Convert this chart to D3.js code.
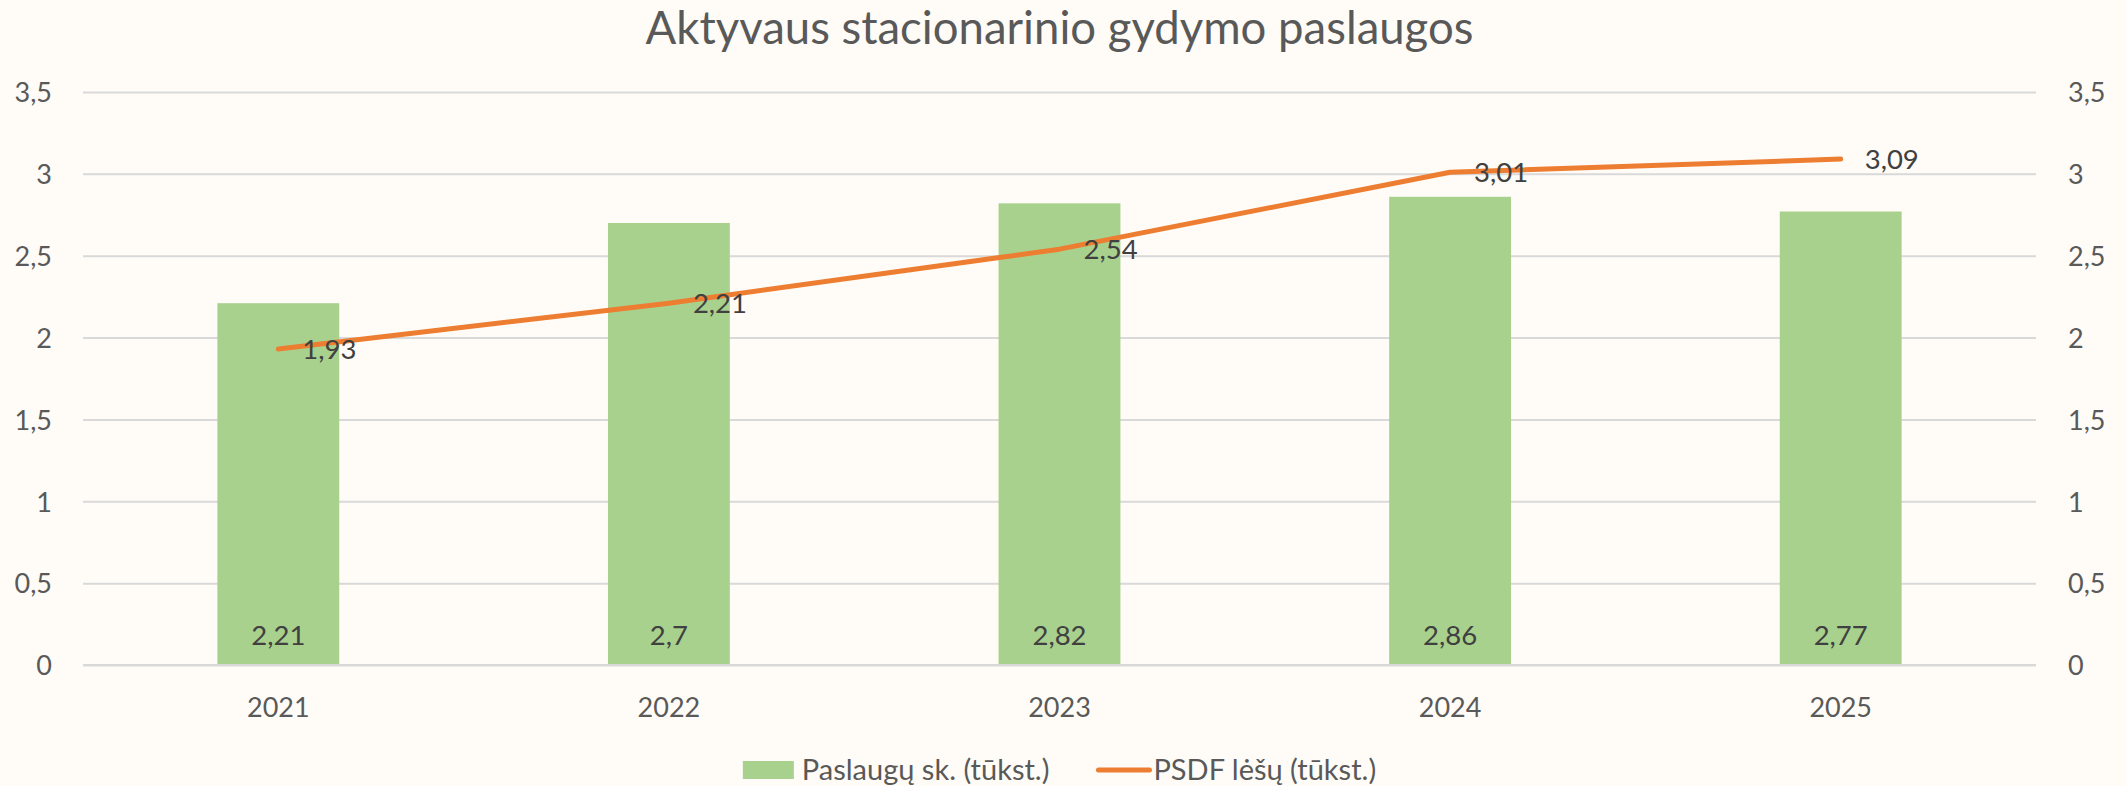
<!DOCTYPE html>
<html>
<head>
<meta charset="utf-8">
<script src="https://cdn.jsdelivr.net/npm/d3@7"></script>
<style>
  body { margin: 0; background: #fffcf7; }
  svg { display: block; font-family: Lato, 'Open Sans', sans-serif; }
</style>
</head>
<body>
<div id="chart"></div>
<script>
// chart data
var years = ['2021', '2022', '2023', '2024', '2025']
var services = [2.21, 2.7, 2.82, 2.86, 2.77]
var funds = [1.93, 2.21, 2.54, 3.01, 3.09]
var yTicks = [0, 0.5, 1, 1.5, 2, 2.5, 3, 3.5]
var seriesNames = ['Paslaugų sk. (tūkst.)', 'PSDF lėšų (tūkst.)']
var title = 'Aktyvaus stacionarinio gydymo paslaugos'

var COLOR = {
  BAR: '#a9d18e',
  LINE: '#ed7d31',
  GRID: '#d9d9d9',
  AXIS_TEXT: '#595959',
  LABEL: '#404040'
}

var width = 2126
var height = 786
var plot = { left: 83, right: 2036, top: 92, bottom: 665 }
var fmt = d => String(d).replace('.', ',')

var svg = d3
  .select('#chart')
  .append('svg')
  .attr('width', width)
  .attr('height', height)

svg.append('rect').attr('width', width).attr('height', height).attr('fill', '#fffcf7')

var x = d3
  .scaleBand()
  .domain(years)
  .range([plot.left, plot.right])
  .paddingInner(0.688)
  .paddingOuter(0.344)

var y = d3.scaleLinear().domain([0, 3.5]).range([plot.bottom, plot.top])

// title
svg
  .append('text')
  .attr('x', (plot.left + plot.right) / 2)
  .attr('y', 44)
  .attr('text-anchor', 'middle')
  .attr('font-size', '45.5px')
  .attr('fill', COLOR.AXIS_TEXT)
  .text(title)

// left axis + gridlines
var leftAxis = svg
  .append('g')
  .attr('transform', 'translate(' + plot.left + ',0)')
  .call(
    d3
      .axisLeft(y)
      .tickValues(yTicks)
      .tickSize(-(plot.right - plot.left))
      .tickPadding(31)
      .tickFormat(fmt)
  )
leftAxis.select('.domain').remove()
leftAxis.selectAll('.tick line').attr('stroke', COLOR.GRID).attr('stroke-width', 2)
leftAxis
  .selectAll('.tick text')
  .attr('font-size', '27px')
  .attr('font-family', 'Lato')
  .attr('dy', '0.36em')
  .attr('fill', COLOR.AXIS_TEXT)

// right axis
var rightAxis = svg
  .append('g')
  .attr('transform', 'translate(' + plot.right + ',0)')
  .call(d3.axisRight(y).tickValues(yTicks).tickSize(0).tickPadding(32).tickFormat(fmt))
rightAxis.select('.domain').remove()
rightAxis
  .selectAll('.tick text')
  .attr('font-size', '27px')
  .attr('font-family', 'Lato')
  .attr('dy', '0.36em')
  .attr('fill', COLOR.AXIS_TEXT)

// bars
svg
  .selectAll('.bar')
  .data(services)
  .enter()
  .append('rect')
  .attr('class', 'bar')
  .attr('x', (d, i) => x(years[i]))
  .attr('y', d => y(d))
  .attr('width', x.bandwidth())
  .attr('height', d => y(0) - y(d))
  .attr('fill', COLOR.BAR)

// bottom axis (drawn after bars so baseline sits on top)
var bottomAxis = svg
  .append('g')
  .attr('transform', 'translate(0,' + plot.bottom + ')')
  .call(d3.axisBottom(x).tickSize(0).tickPadding(33))
bottomAxis.select('.domain').attr('stroke', COLOR.GRID).attr('stroke-width', 2)
  .attr('d', 'M' + plot.left + ',0H' + plot.right)
bottomAxis
  .selectAll('.tick text')
  .attr('font-size', '27px')
  .attr('font-family', 'Lato')
  .attr('fill', COLOR.AXIS_TEXT)

// bar labels, inside base
svg
  .selectAll('.bar-label')
  .data(services)
  .enter()
  .append('text')
  .attr('class', 'bar-label')
  .attr('x', (d, i) => x(years[i]) + x.bandwidth() / 2)
  .attr('y', y(0) - 20)
  .attr('text-anchor', 'middle')
  .attr('font-size', '27.5px')
  .attr('fill', COLOR.LABEL)
  .text(fmt)

// line
var cx = i => x(years[i]) + x.bandwidth() / 2
var line = d3
  .line()
  .x((d, i) => cx(i))
  .y(d => y(d))

svg
  .append('path')
  .datum(funds)
  .attr('d', line)
  .attr('fill', 'none')
  .attr('stroke', COLOR.LINE)
  .attr('stroke-width', 5)
  .attr('stroke-linecap', 'round')
  .attr('stroke-linejoin', 'round')

svg
  .selectAll('.line-label')
  .data(funds)
  .enter()
  .append('text')
  .attr('class', 'line-label')
  .attr('x', (d, i) => cx(i) + 24)
  .attr('y', d => y(d))
  .attr('dy', '0.36em')
  .attr('font-size', '27.5px')
  .attr('fill', COLOR.LABEL)
  .text(fmt)

// legend
var legend = svg.append('g')
var item1 = legend.append('g')
item1.append('rect').attr('x', 0).attr('y', -9).attr('width', 51).attr('height', 18).attr('fill', COLOR.BAR)
var t1 = item1
  .append('text')
  .attr('x', 59)
  .attr('dy', '0.36em')
  .attr('font-size', '29px')
  .attr('fill', COLOR.AXIS_TEXT)
  .text(seriesNames[0])

var w1 = 59 + t1.node().getComputedTextLength()
var item2 = legend.append('g').attr('transform', 'translate(' + (w1 + 47) + ',0)')
item2
  .append('line')
  .attr('x1', 2)
  .attr('x2', 53)
  .attr('stroke', COLOR.LINE)
  .attr('stroke-width', 5)
  .attr('stroke-linecap', 'round')
var t2 = item2
  .append('text')
  .attr('x', 57)
  .attr('dy', '0.36em')
  .attr('font-size', '29px')
  .attr('fill', COLOR.AXIS_TEXT)
  .text(seriesNames[1])

var total = w1 + 47 + 57 + t2.node().getComputedTextLength()
legend.attr('transform', 'translate(' + ((plot.left + plot.right) / 2 - total / 2) + ',770)')
</script>
</body>
</html>
